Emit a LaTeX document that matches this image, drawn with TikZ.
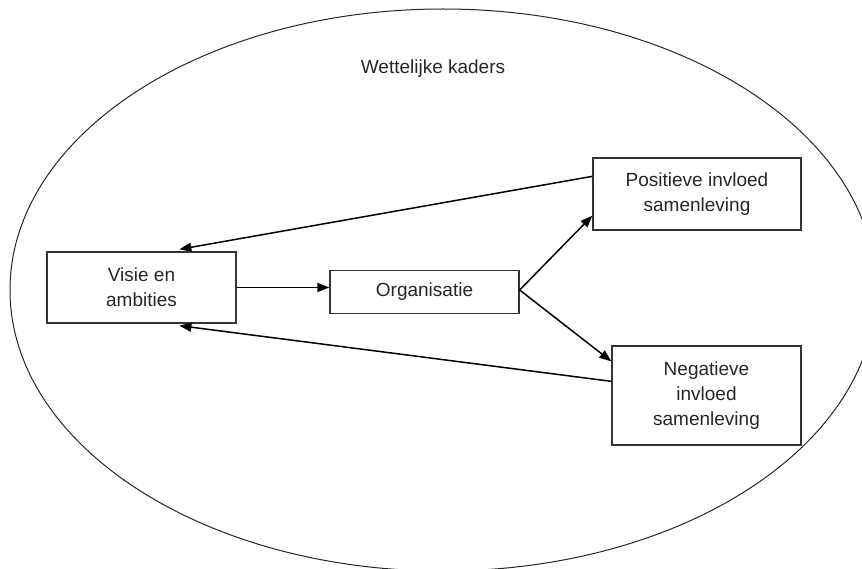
\documentclass[tikz,border=0pt]{standalone}
\usepackage{fontspec}
\setmainfont{Liberation Sans}
\usetikzlibrary{arrows.meta,calc,shapes.geometric}
\begin{document}
\begin{tikzpicture}[x=1pt,y=-1pt,
  txt/.style={font=\fontsize{19}{25}\selectfont, text=black!85},
  box/.style={txt, draw=black!80, line width=1.3pt, fill=white, inner sep=0pt, align=center},
  conn/.style={line width=1.5pt, draw=black, -{Triangle[length=12pt,width=9pt]}}]
\useasboundingbox (0,0) rectangle (862,569);
\clip (0,0) rectangle (862,569);
\node (frame) [ellipse, draw=black!85, line width=1pt, minimum width=866pt, minimum height=562pt, inner sep=0pt] at (443,290) {};
\node (title) [txt] at (433,69) {Wettelijke kaders};
\node (visie) [box, minimum width=189pt, minimum height=71pt] at (141.5,287.5) {Visie en\\ambities};
\node (org) [box, minimum width=189pt, minimum height=43pt] at (424.5,292) {Organisatie};
\node (pos) [box, minimum width=208pt, minimum height=72pt] at (697,194) {Positieve invloed\\samenleving};
\node (neg) [box, minimum width=189pt, minimum height=99pt] at (706.5,395.5) {Negatieve\\invloed\\samenleving};
\draw[conn] (visie.east) -- (visie.east -| org.west);
\draw[conn] ($(org.east)+(0,-2)$) -- ($(pos.south west)+(0,-15)$);
\draw[conn] ($(org.east)+(0,-2)$) -- ($(neg.north west)+(0,16)$);
\draw[conn] ($(pos.north west)+(0,19)$) -- ($(visie.north west)+(133,-2)$);
\draw[conn] ($(neg.north west)+(0,36)$) -- ($(visie.south west)+(133,2)$);
\end{tikzpicture}
\end{document}
